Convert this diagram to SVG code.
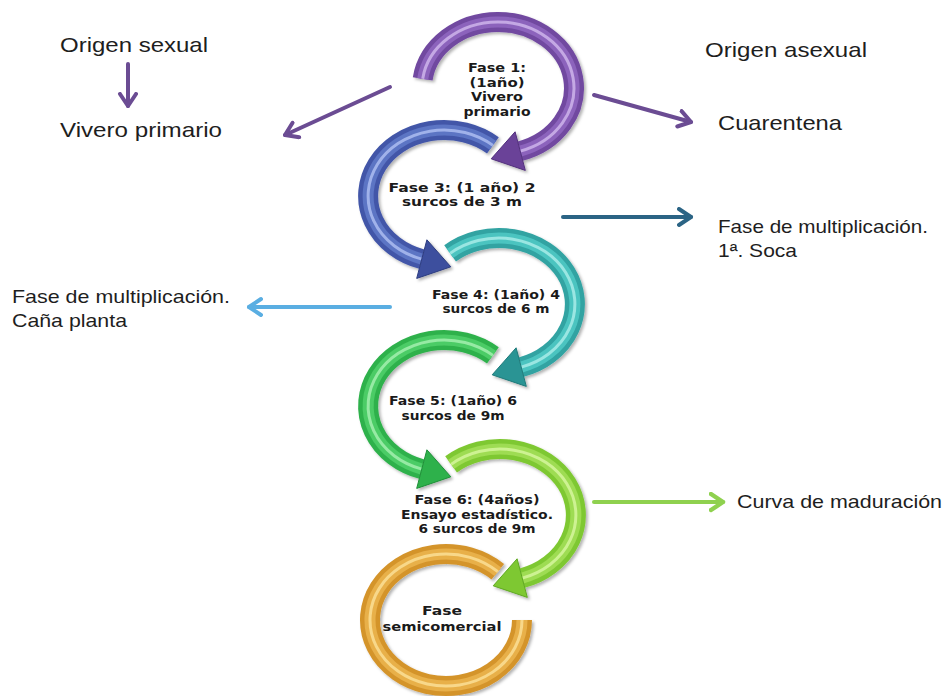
<svg xmlns="http://www.w3.org/2000/svg" width="945" height="696" viewBox="0 0 945 696">
<style>
.lbl{font-family:"Liberation Sans",Arial,sans-serif;fill:#1e1e1e}
.ph{font-family:"DejaVu Sans",Verdana,sans-serif;font-weight:bold;font-size:12px;fill:#1a1a1a;text-anchor:middle}
.ring{fill:none;stroke-linecap:butt}
.w1{stroke-width:20}
.w2{stroke-width:11}
.w3{stroke-width:3}
.ln{fill:none;stroke-width:4;stroke-linecap:round}
</style>
<defs>
<filter id="sh" x="-20%" y="-20%" width="140%" height="140%">
<feDropShadow dx="2" dy="2" stdDeviation="1.5" flood-color="#000" flood-opacity="0.3"/>
</filter>
<marker id="mPurple" markerUnits="userSpaceOnUse" markerWidth="20" markerHeight="22" refX="14" refY="10" orient="auto"><path d="M2,2 L14,10 L2,18" fill="none" stroke="#6b4c93" stroke-width="4" stroke-linecap="round" stroke-linejoin="round"/></marker>
<marker id="mDark" markerUnits="userSpaceOnUse" markerWidth="20" markerHeight="22" refX="14" refY="10" orient="auto"><path d="M2,2 L14,10 L2,18" fill="none" stroke="#2b6485" stroke-width="4" stroke-linecap="round" stroke-linejoin="round"/></marker>
<marker id="mLight" markerUnits="userSpaceOnUse" markerWidth="20" markerHeight="22" refX="14" refY="10" orient="auto"><path d="M2,2 L14,10 L2,18" fill="none" stroke="#5aaee2" stroke-width="4" stroke-linecap="round" stroke-linejoin="round"/></marker>
<marker id="mLime" markerUnits="userSpaceOnUse" markerWidth="20" markerHeight="22" refX="14" refY="10" orient="auto"><path d="M2,2 L14,10 L2,18" fill="none" stroke="#8fd14f" stroke-width="4.5" stroke-linecap="round" stroke-linejoin="round"/></marker>
<path id="a1" d="M422.7,78.8 A76,66 0 1 1 520.2,151.1"/>
<path id="a3" d="M492.9,145.4 A76,66 0 1 0 421.8,259.1"/>
<path id="a4" d="M450.1,253.4 A76,66 0 1 1 521.2,367.1"/>
<path id="a5" d="M492.9,355.4 A76,66 0 1 0 421.8,469.1"/>
<path id="a6" d="M451.1,464.4 A76,66 0 1 1 522.2,578.1"/>
<path id="a7" d="M522,620 A76,66 0 1 1 497.8,571.7"/>
</defs>
<rect width="945" height="696" fill="#fff"/>

<g id="connectors">
<path class="ln" stroke="#6b4c93" d="M128,64 L128,106" marker-end="url(#mPurple)"/>
<path class="ln" stroke="#6b4c93" d="M390,87 L285,135" marker-end="url(#mPurple)"/>
<path class="ln" stroke="#6b4c93" d="M594,95 L691,122" marker-end="url(#mPurple)"/>
<path class="ln" stroke="#2b6485" d="M563,217 L691,217" marker-end="url(#mDark)"/>
<path class="ln" stroke="#5aaee2" stroke-width="3.5" d="M390,307 L249,307" marker-end="url(#mLight)"/>
<path class="ln" stroke="#8fd14f" stroke-width="5" d="M594,502 L723,502" marker-end="url(#mLime)"/>
</g>

<g id="fase7">
<g filter="url(#sh)">
<use href="#a7" class="ring w1" stroke="#d4942c"/>
<use href="#a7" class="ring w2" stroke="#e8b04a"/>
<use href="#a7" class="ring w3" stroke="#f8d88a"/>
</g>
<text class="ph" x="442" y="615" textLength="40" lengthAdjust="spacingAndGlyphs">Fase</text>
<text class="ph" x="442" y="631" textLength="119" lengthAdjust="spacingAndGlyphs">semicomercial</text>
</g>

<g id="fase6">
<g filter="url(#sh)">
<use href="#a6" class="ring w1" stroke="#7ec832"/>
<use href="#a6" class="ring w2" stroke="#9edc52"/>
<use href="#a6" class="ring w3" stroke="#cdf292"/>
<polygon points="527.3,597.4 517.1,558.8 493.2,585.8" fill="#7ec832" stroke="#5fa822" stroke-width="1"/>
</g>
<text class="ph" x="477" y="504" textLength="125" lengthAdjust="spacingAndGlyphs">Fase 6: (4años)</text>
<text class="ph" x="477" y="518.5" textLength="152" lengthAdjust="spacingAndGlyphs">Ensayo estadístico.</text>
<text class="ph" x="477" y="533" textLength="117" lengthAdjust="spacingAndGlyphs">6 surcos de 9m</text>
</g>

<g id="fase5">
<g filter="url(#sh)">
<use href="#a5" class="ring w1" stroke="#2fb14c"/>
<use href="#a5" class="ring w2" stroke="#4ccc66"/>
<use href="#a5" class="ring w3" stroke="#96eaa4"/>
<polygon points="416.7,488.4 426.9,449.8 450.8,476.8" fill="#2fb14c" stroke="#1f8f38" stroke-width="1"/>
</g>
<text class="ph" x="453" y="405" textLength="128" lengthAdjust="spacingAndGlyphs">Fase 5: (1año) 6</text>
<text class="ph" x="453" y="419.5" textLength="103" lengthAdjust="spacingAndGlyphs">surcos de 9m</text>
</g>

<g id="fase4">
<g filter="url(#sh)">
<use href="#a4" class="ring w1" stroke="#30a3a2"/>
<use href="#a4" class="ring w2" stroke="#4cc4c0"/>
<use href="#a4" class="ring w3" stroke="#9ae6e2"/>
<polygon points="526.3,386.4 516.1,347.8 492.2,374.8" fill="#2a9494" stroke="#1f7a7a" stroke-width="1"/>
</g>
<text class="ph" x="496" y="298.5" textLength="128" lengthAdjust="spacingAndGlyphs">Fase 4: (1año) 4</text>
<text class="ph" x="496" y="313" textLength="107" lengthAdjust="spacingAndGlyphs">surcos de 6 m</text>
</g>

<g id="fase3">
<g filter="url(#sh)">
<use href="#a3" class="ring w1" stroke="#4356a8"/>
<use href="#a3" class="ring w2" stroke="#5c74c4"/>
<use href="#a3" class="ring w3" stroke="#a0b2ea"/>
<polygon points="416.7,278.4 426.9,239.8 450.8,266.8" fill="#3d4f9e" stroke="#2d3d80" stroke-width="1"/>
</g>
<text class="ph" x="462" y="191.5" textLength="147" lengthAdjust="spacingAndGlyphs">Fase 3: (1 año) 2</text>
<text class="ph" x="462" y="206" textLength="120" lengthAdjust="spacingAndGlyphs">surcos de 3 m</text>
</g>

<g id="fase1">
<g filter="url(#sh)">
<use href="#a1" class="ring w1" stroke="#7149a0"/>
<use href="#a1" class="ring w2" stroke="#8c64bc"/>
<use href="#a1" class="ring w3" stroke="#c4a8e4"/>
<polygon points="525.3,170.4 515.1,131.8 491.2,158.8" fill="#6a4298" stroke="#52307c" stroke-width="1"/>
</g>
<text class="ph" x="497" y="72" textLength="58" lengthAdjust="spacingAndGlyphs">Fase 1:</text>
<text class="ph" x="497" y="86.5" textLength="55" lengthAdjust="spacingAndGlyphs">(1año)</text>
<text class="ph" x="497" y="101" textLength="52" lengthAdjust="spacingAndGlyphs">Vivero</text>
<text class="ph" x="497" y="115.5" textLength="67" lengthAdjust="spacingAndGlyphs">primario</text>
</g>

<g id="origen-sexual"><text class="lbl" x="60" y="52" font-size="21" textLength="148" lengthAdjust="spacingAndGlyphs">Origen sexual</text></g>
<g id="vivero-primario"><text class="lbl" x="60" y="137" font-size="21" textLength="162" lengthAdjust="spacingAndGlyphs">Vivero primario</text></g>
<g id="origen-asexual"><text class="lbl" x="705" y="57" font-size="21" textLength="162" lengthAdjust="spacingAndGlyphs">Origen asexual</text></g>
<g id="cuarentena"><text class="lbl" x="718" y="130" font-size="21" textLength="124" lengthAdjust="spacingAndGlyphs">Cuarentena</text></g>
<g id="soca">
<text class="lbl" x="718" y="233" font-size="19" textLength="210" lengthAdjust="spacingAndGlyphs">Fase de multiplicación.</text>
<text class="lbl" x="718" y="257" font-size="19" textLength="79" lengthAdjust="spacingAndGlyphs">1ª. Soca</text>
</g>
<g id="cana-planta">
<text class="lbl" x="12" y="303" font-size="19" textLength="218" lengthAdjust="spacingAndGlyphs">Fase de multiplicación.</text>
<text class="lbl" x="12" y="327" font-size="19" textLength="115" lengthAdjust="spacingAndGlyphs">Caña planta</text>
</g>
<g id="curva"><text class="lbl" x="737" y="508" font-size="19" textLength="205" lengthAdjust="spacingAndGlyphs">Curva de maduración</text></g>
</svg>
